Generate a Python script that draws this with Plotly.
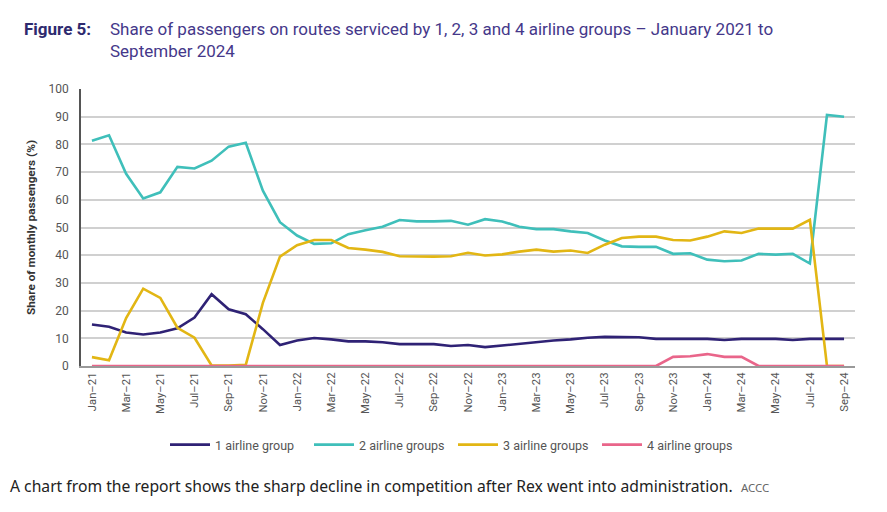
import plotly.graph_objects as go

months = [
    "Jan–21", "Feb–21", "Mar–21", "Apr–21", "May–21", "Jun–21", "Jul–21", "Aug–21", "Sep–21", "Oct–21", "Nov–21", "Dec–21",
    "Jan–22", "Feb–22", "Mar–22", "Apr–22", "May–22", "Jun–22", "Jul–22", "Aug–22", "Sep–22", "Oct–22", "Nov–22", "Dec–22",
    "Jan–23", "Feb–23", "Mar–23", "Apr–23", "May–23", "Jun–23", "Jul–23", "Aug–23", "Sep–23", "Oct–23", "Nov–23", "Dec–23",
    "Jan–24", "Feb–24", "Mar–24", "Apr–24", "May–24", "Jun–24", "Jul–24", "Aug–24", "Sep–24",
]

one_group = [
    15.0, 14.2, 12.1, 11.4, 12.1, 13.6, 17.5, 25.9, 20.5, 18.7, 13.3, 7.6,
    9.2, 10.1, 9.6, 8.9, 8.9, 8.6, 7.9, 7.9, 7.9, 7.2, 7.6, 6.8,
    7.4, 8.2, 8.8, 9.2, 9.6, 10.2, 10.5, 10.4, 10.4, 9.8, 9.8, 9.8,
    9.8, 9.4, 9.8, 9.8, 9.8, 9.4, 9.8, 9.8, 9.8,
]

two_groups = [
    81.3, 83.3, 69.4, 60.5, 62.7, 71.9, 71.3, 74.1, 79.2, 80.6, 63.3, 51.9,
    47.1, 44.1, 44.3, 47.6, 49.0, 50.3, 52.7, 52.2, 52.2, 52.4, 51.0, 53.0,
    52.2, 50.3, 49.4, 49.4, 48.6, 48.0, 45.3, 43.2, 43.0, 43.0, 40.5, 40.7,
    38.4, 37.8, 38.1, 40.5, 40.2, 40.5, 37.0, 90.6, 90.0,
]

three_groups = [
    3.2, 2.1, 17.3, 27.9, 24.6, 13.8, 10.2, 0.2, 0.2, 0.4, 22.8, 39.5,
    43.6, 45.5, 45.5, 42.6, 42.0, 41.2, 39.6, 39.5, 39.5, 39.6, 40.9, 39.9,
    40.3, 41.3, 42.0, 41.3, 41.7, 40.8, 43.8, 46.2, 46.7, 46.7, 45.5, 45.3,
    46.7, 48.6, 48.0, 49.6, 49.6, 49.6, 52.8, 0.0, 0.0,
]

four_groups = [
    0, 0, 0, 0, 0, 0, 0, 0, 0, 0, 0, 0,
    0, 0, 0, 0, 0, 0, 0, 0, 0, 0, 0, 0,
    0, 0, 0, 0, 0, 0, 0, 0, 0, 0, 3.3, 3.5,
    4.3, 3.3, 3.3, 0, 0, 0, 0, 0, 0,
]

series_names = ["1 airline group", "2 airline groups", "3 airline groups", "4 airline groups"]
tick_labels = months[::2]

fig_label = "Figure 5:"
title_line = "Share of passengers on routes serviced by 1, 2, 3 and 4 airline groups – January 2021 to<br>September 2024"
caption = "A chart from the report shows the sharp decline in competition after Rex went into administration."
source = "ACCC"

colors = ["#2f2275", "#3fbfba", "#e2b614", "#e9658a"]

# page body has an 8px margin; plot area sits at page x 81..855, y 89..366
W, H = 879, 504
L, T = 73, 81
PW, PH = 774, 277

fig = go.Figure()
for name, vals, col in zip(series_names, [one_group, two_groups, three_groups, four_groups], colors):
    fig.add_trace(go.Scatter(
        x=months, y=vals, mode="lines", name=name,
        line=dict(color=col, width=2.6),
    ))

fig.update_layout(
    width=W, height=H,
    margin=dict(l=L, r=W - L - PW, t=T, b=H - T - PH),
    paper_bgcolor="white", plot_bgcolor="white",
    font=dict(family="Roboto", color="#555555", size=11),
    showlegend=True,
    legend=dict(
        orientation="h", x=(165 - 8 - L) / PW, xanchor="left",
        y=-(430 - 8 - T - PH) / PH, yanchor="top",
        font=dict(size=12.5, color="#555555"),
        entrywidth=89, entrywidthmode="pixels",
        itemwidth=40,
    ),
)

fig.update_xaxes(
    type="category",
    range=[-0.64, 44.64],
    tickmode="array", tickvals=tick_labels, ticktext=tick_labels,
    tickangle=-90, ticks="", showgrid=False,
    showline=True, linecolor="#999999", linewidth=2,
    tickfont=dict(size=11.3, color="#555555"),
    zeroline=False,
)
fig.update_yaxes(
    range=[0, 100], dtick=10,
    showgrid=True, gridcolor="#d0d0d0", gridwidth=1.5,
    showline=True, linecolor="#555555", linewidth=1.5,
    zeroline=False, ticks="", ticklabelstandoff=8,
    tickfont=dict(size=12, color="#555555"),
    title=dict(text="<b>Share of monthly passengers (%)</b>", font=dict(size=11.8, color="#333333"), standoff=10),
)

fig.add_annotation(
    text="<b>" + fig_label + "</b>", xref="paper", yref="paper",
    x=(22 - 8 - L) / PW, y=1 + (T - (17 - 8)) / PH, xanchor="left", yanchor="top",
    showarrow=False, font=dict(family="Roboto", size=17, color="#2e2a6e"), align="left",
)
fig.add_annotation(
    text=title_line, xref="paper", yref="paper",
    x=(108 - 8 - L) / PW, y=1 + (T - (17 - 8)) / PH, xanchor="left", yanchor="top",
    showarrow=False, font=dict(family="Roboto", size=17, color="#45388a"), align="left",
)
fig.add_annotation(
    text=caption + "  <span style='font-size:11.5px;color:#666666'>" + source + "</span>",
    xref="paper", yref="paper",
    x=(8 - 8 - L) / PW, y=-(486 - 8 - T - PH) / PH, xanchor="left", yanchor="middle",
    showarrow=False, font=dict(family="Noto Sans", size=15.7, color="#222222"), align="left",
)

fig.write_html("out.html")
